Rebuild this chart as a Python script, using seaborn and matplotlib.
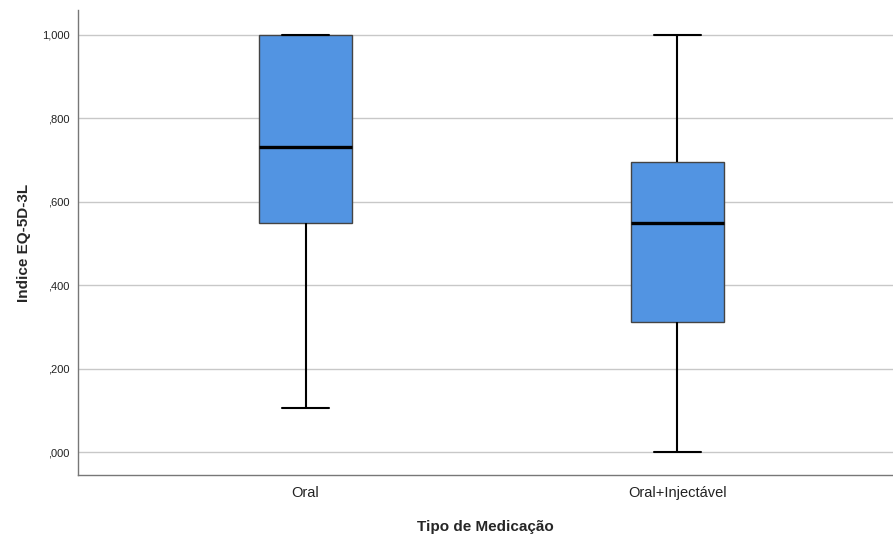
import numpy as np
import pandas as pd
import matplotlib
matplotlib.use("Agg")
import matplotlib.pyplot as plt
import seaborn as sns

# five-number summaries (min, Q1, median, Q3, max)
groups = ["Oral", "Oral+Injectável"]
oral_vals = [0.106, 0.548, 0.731, 1.000, 1.000]
inj_vals = [0.000, 0.3125, 0.548, 0.695, 1.000]
yticks = [0.0, 0.2, 0.4, 0.6, 0.8, 1.0]
ytick_labels = [",000", ",200", ",400", ",600", ",800", "1,000"]

df = pd.DataFrame({
    "grupo": [groups[0]] * len(oral_vals) + [groups[1]] * len(inj_vals),
    "indice": oral_vals + inj_vals,
})

sns.set_style("white")
plt.rcParams["font.family"] = ["Liberation Sans", "DejaVu Sans"]

fig = plt.figure(figsize=(8.93, 5.36), dpi=100)
ax = fig.add_axes([0.0873, 0.1138, 0.9127, 0.867])

ax.set_yticks(yticks)
ax.yaxis.grid(True, color="#c8c8c8", linewidth=1.0)
ax.set_axisbelow(True)

sns.boxplot(data=df, x="grupo", y="indice", order=groups, ax=ax, width=0.25,
            color="#5294e2", saturation=1, whis=1.5, showfliers=False,
            boxprops=dict(edgecolor="#444444", linewidth=1.0),
            medianprops=dict(color="black", linewidth=2.4),
            whiskerprops=dict(color="black", linewidth=1.5),
            capprops=dict(color="black", linewidth=1.5))

ax.set_xlim(-0.612, 1.58)
ax.set_ylim(-0.055, 1.058)
ax.set_yticklabels(ytick_labels, fontsize=8)
ax.tick_params(axis="x", labelsize=10.5, length=0, pad=8, colors="#222222")
ax.tick_params(axis="y", length=0, pad=6, colors="#222222")

for side in ["top", "right"]:
    ax.spines[side].set_visible(False)
for side in ["left", "bottom"]:
    ax.spines[side].set_color("#777777")
    ax.spines[side].set_linewidth(1.0)

ax.set_xlabel("Tipo de Medicação", fontsize=11, fontweight="bold", labelpad=14)
ax.set_ylabel("Indice EQ-5D-3L", fontsize=11, fontweight="bold", labelpad=8)

fig.savefig("out.png", dpi=100)
